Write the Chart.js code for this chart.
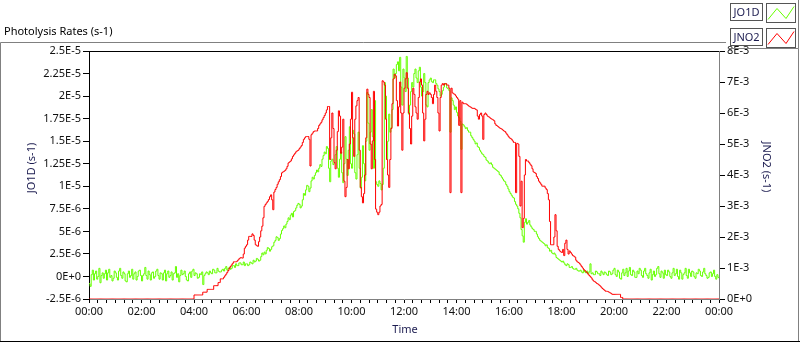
<!DOCTYPE html>
<html>
<head>
<meta charset="utf-8">
<title>Photolysis Rates</title>
<script src="https://cdn.jsdelivr.net/npm/chart.js@4.4.1/dist/chart.umd.min.js"></script>
<style>
  html, body { margin: 0; padding: 0; background: #fff; }
  canvas { display: block; }
</style>
</head>
<body>
<canvas id="photoChart" width="800" height="342"></canvas>
<script>
// one sample every 2.5 minutes, 00:00 .. 24:00 (24 samples per row = 1 hour)
const stepMinutes = 2.5;

// JO1D in units of 1E-6 s-1 (left axis)
const jo1d = [
  -0.8, -1.1, 0.2, 0.7, -0.4, 0.3, 0.6, -0.3, 0.0, 0.9, -0.7, 0.1, 0.4, -0.2, 0.3, 0.7, -0.4, 0.4, 0.8, -0.1, 0.1, -0.5, -0.2, 0.6,
  0.4, -0.1, -0.4, 0.6, 0.9, 0.1, -0.2, 0.5, 0.3, -0.5, -0.6, 0.3, 0.6, -0.1, 0.1, 0.8, -0.3, 0.3, 0.5, -0.4, 0.0, 0.6, 0.7, 0.1,
  -0.5, 0.1, 0.3, 1.0, 0.1, -0.3, 0.6, 0.2, -0.4, 0.4, 0.5, -0.2, 0.0, 0.6, 0.8, 0.1, -0.3, 0.4, 0.3, -0.4, 0.4, 0.7, -0.5, 0.3,
  0.6, -0.1, 0.1, 0.5, -0.4, 0.3, 0.4, 1.1, -0.1, 0.3, -0.6, 0.1, 0.7, 0.2, 0.3, 0.6, 0.0, -0.4, -0.5, 0.3, 0.5, -0.1, 0.6, 0.8,
  0.1, 0.4, 0.3, -0.2, -0.1, 0.3, 0.2, 0.5, -0.9, 0.1, 0.3, 0.5, 0.4, 0.2, 0.6, 0.4, 0.3, 0.8, 0.7, 0.4, 0.4, 0.9, 0.6, 0.5,
  0.5, 0.7, 0.8, 0.6, 0.9, 1.1, 0.7, 0.9, 1.0, 0.8, 0.9, 1.2, 1.2, 1.0, 1.4, 1.2, 1.2, 1.5, 1.5, 1.3, 1.3, 1.6, 1.2, 1.4,
  1.4, 1.2, 1.3, 1.6, 1.5, 1.4, 1.8, 1.6, 1.7, 2.0, 1.9, 1.7, 1.8, 2.2, 2.6, 2.4, 2.7, 2.5, 2.9, 3.2, 3.1, 2.8, 3.0, 3.3,
  3.4, 3.8, 4.0, 4.4, 4.3, 4.0, 4.2, 4.7, 5.1, 5.3, 5.6, 5.4, 5.8, 6.1, 6.5, 6.3, 6.8, 7.0, 6.6, 7.2, 7.3, 7.6, 7.9, 8.1,
  8.0, 7.6, 7.8, 8.5, 9.2, 9.0, 9.6, 10.1, 10.0, 9.4, 9.8, 10.6, 11.0, 10.8, 11.2, 11.5, 11.8, 11.6, 12.0, 12.4, 12.2, 13.0, 13.4, 13.8,
  13.6, 14.4, 14.2, 12.0, 10.5, 12.8, 13.0, 12.4, 12.6, 13.5, 14.4, 12.0, 11.0, 13.0, 13.8, 11.5, 10.4, 12.5, 15.5, 13.0, 11.2, 14.0, 16.6, 12.5,
  12.0, 16.2, 15.8, 11.5, 10.8, 13.5, 16.0, 12.0, 9.8, 11.0, 14.5, 12.5, 10.6, 15.0, 20.4, 17.0, 14.0, 16.0, 18.5, 15.5, 12.0, 19.5, 10.5, 10.2,
  10.0, 10.6, 10.3, 9.6, 10.2, 12.0, 21.5, 20.0, 13.0, 15.0, 18.0, 16.0, 16.5, 18.5, 23.0, 22.0, 22.5, 23.5, 23.8, 22.8, 24.3, 21.0, 19.0, 23.0,
  22.0, 20.5, 24.4, 22.0, 18.0, 19.0, 20.5, 21.5, 21.0, 22.5, 23.0, 22.0, 21.5, 22.8, 23.2, 21.0, 20.0, 20.5, 22.5, 21.5, 19.0, 18.8, 21.5, 21.8,
  22.0, 21.6, 21.5, 21.8, 21.8, 21.4, 21.2, 20.8, 20.5, 20.0, 20.2, 20.6, 21.0, 21.4, 21.3, 20.9, 20.8, 20.6, 16.0, 19.8, 19.5, 19.0, 18.5, 18.8,
  18.2, 17.8, 17.6, 17.2, 14.1, 16.9, 16.8, 16.6, 16.4, 16.5, 16.2, 16.0, 16.0, 15.6, 15.4, 15.2, 15.0, 14.7, 14.8, 14.4, 14.3, 14.0, 13.8, 13.6,
  13.5, 13.3, 13.2, 12.9, 12.8, 12.6, 12.5, 12.6, 12.4, 12.1, 12.0, 11.9, 11.8, 11.7, 11.6, 11.3, 11.2, 11.0, 10.8, 10.6, 10.5, 10.2, 10.0, 9.7,
  9.4, 9.2, 9.0, 8.8, 8.7, 8.3, 8.0, 7.8, 7.5, 7.0, 6.5, 5.2, 4.5, 3.8, 6.0, 6.4, 5.8, 6.0, 6.2, 5.7, 5.5, 5.3, 5.2, 5.0,
  5.0, 4.7, 4.4, 4.2, 4.0, 3.9, 3.8, 3.7, 3.6, 3.4, 3.5, 3.2, 3.1, 2.8, 2.9, 2.6, 2.5, 2.6, 2.4, 2.1, 2.0, 1.9, 1.8, 1.7,
  1.6, 1.7, 1.5, 1.3, 1.2, 1.4, 1.3, 1.0, 1.0, 1.1, 0.9, 0.8, 0.8, 0.9, 0.7, 0.6, 0.6, 0.7, 0.5, 0.4, 0.7, 0.5, 0.4, 0.6,
  0.3, 0.5, 1.4, 0.3, 0.4, 0.2, 0.2, 0.6, 0.5, 0.3, 0.3, 0.1, 0.6, 0.4, 0.2, 0.5, 0.4, 0.2, 0.1, 0.6, 0.5, 0.2, 0.3, 0.7,
  0.9, 0.2, 0.0, 0.7, 0.5, -0.2, -0.3, 0.4, 0.8, 0.1, 0.4, 0.9, 0.0, 0.6, 1.0, 0.2, 0.1, 0.7, 0.5, -0.1, -0.1, 0.6, 0.3, 0.9,
  0.7, 0.1, -0.1, 0.6, 0.9, 0.3, 0.1, -0.2, 0.4, 0.8, -0.4, 0.2, 0.6, 0.0, 0.2, 0.9, 1.1, 0.3, -0.1, 0.6, 0.4, -0.2, 0.7, 0.2,
  0.1, 0.7, 0.5, 0.0, -0.2, 0.4, 0.9, 0.1, 0.3, 0.8, 0.0, -0.3, 0.7, 0.4, -0.3, 0.2, 0.4, 0.9, 0.1, -0.2, 0.8, 0.4, 0.0, 0.6,
  0.5, 0.0, -0.2, 0.4, 0.3, 0.8, 0.6, 0.1, 0.0, 0.5, 0.9, 0.3, 0.1, -0.2, -0.1, 0.4, 0.5, 0.0, 0.3, 0.7, 0.0, -0.3, 0.2, -0.1,
  -0.2
];

// JNO2 in units of 1E-3 s-1 (right axis)
const jno2 = [
  0, 0, 0, 0, 0, 0, 0, 0, 0, 0, 0, 0, 0, 0, 0, 0, 0, 0, 0, 0, 0, 0, 0, 0,
  0, 0, 0, 0, 0, 0, 0, 0, 0, 0, 0, 0, 0, 0, 0, 0, 0, 0, 0, 0, 0, 0, 0, 0,
  0, 0, 0, 0, 0, 0, 0, 0, 0, 0, 0, 0, 0, 0, 0, 0, 0, 0, 0, 0, 0, 0, 0, 0,
  0, 0, 0, 0, 0, 0, 0, 0, 0, 0, 0, 0, 0, 0, 0, 0, 0, 0, 0, 0, 0, 0, 0, 0,
  0.13, 0.13, 0.13, 0.13, 0.13, 0.13, 0.13, 0.13, 0.22, 0.22, 0.22, 0.22, 0.31, 0.31, 0.31, 0.31, 0.31, 0.31, 0.43, 0.43, 0.43, 0.43, 0.53, 0.53,
  0.65, 0.65, 0.65, 0.70, 0.75, 0.80, 0.86, 0.92, 0.99, 1.05, 1.10, 1.15, 1.20, 1.20, 1.20, 1.22, 1.26, 1.30, 1.33, 1.33, 1.32, 1.45, 1.64, 1.70,
  1.75, 1.90, 2.02, 2.02, 2.02, 2.10, 2.05, 1.90, 1.75, 1.72, 1.70, 1.85, 2.00, 2.20, 2.35, 2.62, 2.99, 3.05, 3.10, 3.15, 3.21, 3.30, 3.36, 3.20,
  2.88, 3.45, 3.53, 3.60, 3.70, 3.78, 3.85, 3.95, 4.07, 4.10, 4.12, 4.15, 4.20, 4.28, 4.39, 4.42, 4.45, 4.52, 4.60, 4.65, 4.70, 4.75, 4.78, 4.80,
  4.85, 4.90, 4.95, 5.05, 5.15, 5.20, 5.24, 5.24, 5.24, 5.15, 4.29, 5.30, 5.35, 5.40, 5.42, 5.42, 5.42, 5.50, 5.60, 5.65, 5.70, 5.78, 5.85, 5.92,
  6.00, 6.10, 6.21, 6.21, 4.50, 5.20, 6.00, 5.50, 4.40, 4.20, 4.80, 5.40, 6.07, 5.90, 4.70, 4.90, 5.80, 3.80, 3.30, 3.60, 4.50, 4.20, 5.00, 5.80,
  6.67, 5.20, 4.60, 5.80, 6.23, 6.40, 6.50, 4.80, 3.60, 3.30, 3.10, 3.40, 4.00, 5.20, 6.77, 6.60, 6.50, 5.00, 4.20, 5.10, 6.70, 4.50, 2.90, 2.80,
  2.72, 2.80, 3.00, 3.05, 7.04, 7.00, 6.90, 5.80, 4.50, 4.00, 3.60, 4.50, 5.50, 6.30, 7.10, 7.25, 7.20, 6.40, 5.58, 6.20, 7.00, 6.00, 4.80, 6.00,
  6.80, 7.10, 7.30, 6.80, 6.00, 5.50, 5.00, 5.90, 6.80, 6.60, 6.20, 6.00, 5.80, 6.50, 7.00, 7.10, 6.90, 6.00, 5.10, 5.80, 6.60, 6.70, 6.60, 6.65,
  6.60, 6.50, 6.30, 6.60, 6.90, 6.70, 6.50, 6.00, 5.42, 6.50, 6.90, 6.95, 6.90, 6.95, 6.95, 6.90, 6.90, 6.80, 3.43, 6.80, 6.65, 6.62, 6.60, 6.55,
  6.50, 6.45, 5.60, 6.40, 3.43, 6.35, 6.30, 6.30, 6.30, 6.28, 6.25, 6.22, 6.20, 6.18, 6.15, 6.15, 6.15, 6.12, 6.10, 5.90, 5.80, 5.95, 6.00, 5.90,
  5.15, 5.95, 6.00, 5.95, 5.90, 5.88, 5.85, 5.82, 5.80, 5.78, 5.75, 5.65, 5.60, 5.58, 5.55, 5.52, 5.50, 5.48, 5.45, 5.42, 5.40, 5.35, 5.30, 5.25,
  5.20, 5.18, 5.15, 5.10, 5.05, 5.05, 3.43, 5.02, 5.00, 4.60, 3.00, 3.80, 2.30, 2.60, 4.00, 4.50, 4.45, 4.45, 4.40, 4.35, 4.30, 4.20, 4.10, 4.08,
  4.05, 3.95, 3.89, 3.80, 3.75, 3.70, 3.64, 3.64, 3.64, 3.58, 3.53, 3.40, 3.20, 2.50, 1.75, 1.75, 1.75, 2.00, 2.72, 2.20, 1.70, 1.60, 1.55, 1.52,
  1.50, 1.60, 1.40, 1.80, 1.90, 1.60, 1.45, 1.55, 1.50, 1.45, 1.40, 1.38, 1.35, 1.25, 1.20, 1.18, 1.15, 1.10, 1.05, 1.00, 0.95, 0.92, 0.88, 0.85,
  0.80, 0.76, 0.72, 0.68, 0.62, 0.58, 0.56, 0.53, 0.50, 0.48, 0.45, 0.42, 0.38, 0.34, 0.31, 0.28, 0.25, 0.25, 0.24, 0.22, 0.20, 0.18, 0.15, 0.15,
  0.15, 0.15, 0.15, 0.15, 0.15, 0.15, 0.05, 0.05, 0, 0, 0, 0, 0, 0, 0, 0, 0, 0, 0, 0, 0, 0, 0, 0,
  0, 0, 0, 0, 0, 0, 0, 0, 0, 0, 0, 0, 0, 0, 0, 0, 0, 0, 0, 0, 0, 0, 0, 0,
  0, 0, 0, 0, 0, 0, 0, 0, 0, 0, 0, 0, 0, 0, 0, 0, 0, 0, 0, 0, 0, 0, 0, 0,
  0, 0, 0, 0, 0, 0, 0, 0, 0, 0, 0, 0, 0, 0, 0, 0, 0, 0, 0, 0, 0, 0, 0, 0,
  0
];

const seriesNames = ["JO1D", "JNO2"];
const seriesColors = ["#66ff00", "#ff0000"];
const axisTitles = ["JO1D (s-1)", "JNO2 (s-1)", "Time"];

const FONT = "'Noto Sans', 'DejaVu Sans', sans-serif";
const NAVY = "#1c1c50";

// 2.5E-5, 7.5E-6, 0E+0 ...
function fmtE(x) {
  if (Math.abs(x) < 1e-15) return "0E+0";
  let e = Math.floor(Math.log10(Math.abs(x)) + 1e-9);
  let m = Math.round(x / Math.pow(10, e) * 1000) / 1000;
  if (Math.abs(m) >= 10) { m = m / 10; e++; }
  return m + "E" + e;
}

function hhmm(v) {
  const h = Math.floor(v / 60) % 24;
  return (h < 10 ? "0" : "") + h + ":00";
}

function toPoints(arr) {
  return arr.map((v, i) => ({x: i * stepMinutes, y: v}));
}

// panel frame, titles, top border and legend, LabVIEW style
const panelPlugin = {
  id: "panel",
  beforeDraw(chart) {
    const ctx = chart.ctx;
    ctx.save();
    ctx.fillStyle = "#fff";
    ctx.fillRect(0, 0, chart.width, chart.height);
    ctx.restore();
  },
  afterDraw(chart) {
    const ctx = chart.ctx;
    const a = chart.chartArea;
    ctx.save();
    ctx.lineWidth = 1;

    // top border of plot
    ctx.strokeStyle = "#000";
    ctx.beginPath();
    ctx.moveTo(a.left, a.top + 0.5);
    ctx.lineTo(a.right, a.top + 0.5);
    ctx.stroke();

    // outer frame
    ctx.strokeStyle = "#808080";
    ctx.beginPath();
    ctx.moveTo(0.5, 341.5);
    ctx.lineTo(0.5, 42.5);
    ctx.lineTo(726, 42.5);
    ctx.moveTo(728, 48.5);
    ctx.lineTo(798.5, 48.5);
    ctx.lineTo(798.5, 0);
    ctx.moveTo(798.5, 48.5);
    ctx.lineTo(798.5, 341.5);
    ctx.stroke();
    ctx.strokeStyle = "#000";
    ctx.beginPath();
    ctx.moveTo(0, 341.5);
    ctx.lineTo(800, 341.5);
    ctx.stroke();

    ctx.font = "11px " + FONT;
    ctx.textBaseline = "middle";

    // chart title
    ctx.fillStyle = "#000";
    ctx.textAlign = "left";
    ctx.fillText("Photolysis Rates (s-1)", 4, 32);

    // axis titles
    ctx.fillStyle = NAVY;
    ctx.textAlign = "center";
    ctx.fillText(axisTitles[2], 405, 330);
    ctx.save();
    ctx.translate(32, 168);
    ctx.rotate(-Math.PI / 2);
    ctx.fillText(axisTitles[0], 0, 0);
    ctx.restore();
    ctx.save();
    ctx.translate(766, 167);
    ctx.rotate(Math.PI / 2);
    ctx.fillText(axisTitles[1], 0, 0);
    ctx.restore();

    // legend
    seriesNames.forEach((name, i) => {
      const y0 = 3.5 + i * 25;
      ctx.strokeStyle = "#555";
      ctx.strokeRect(730.5, y0, 32, 17);
      ctx.strokeRect(766.5, y0, 29, 19);
      ctx.fillStyle = NAVY;
      ctx.textAlign = "center";
      ctx.fillText(name, 746.5, y0 + 9);
      ctx.strokeStyle = seriesColors[i];
      ctx.beginPath();
      ctx.moveTo(768, y0 + 16);
      ctx.lineTo(777, y0 + 5);
      ctx.lineTo(786, y0 + 15);
      ctx.lineTo(794, y0 + 3);
      ctx.stroke();
    });

    ctx.restore();
  }
};

Chart.defaults.font.family = FONT;
Chart.defaults.font.size = 11;
Chart.defaults.color = "#111";

new Chart("photoChart", {
  type: "line",
  data: {
    datasets: [{
      label: seriesNames[0],
      data: toPoints(jo1d),
      yAxisID: "y",
      borderColor: seriesColors[0],
      borderWidth: 1,
      pointRadius: 0,
      stepped: true,
      order: 1
    }, {
      label: seriesNames[1],
      data: toPoints(jno2),
      yAxisID: "y1",
      borderColor: seriesColors[1],
      borderWidth: 1,
      pointRadius: 0,
      stepped: true,
      order: 0
    }]
  },
  options: {
    responsive: false,
    animation: false,
    devicePixelRatio: 1,
    layout: {padding: {top: 51, left: 0, right: 0, bottom: 0}},
    plugins: {
      legend: {display: false},
      title: {display: false},
      tooltip: {enabled: false}
    },
    scales: {
      x: {
        type: "linear",
        position: "bottom",
        min: 0,
        max: 1440,
        afterFit(s) { s.height = 43; },
        ticks: {
          stepSize: 20,
          autoSkip: false,
          maxRotation: 0,
          minRotation: 0,
          padding: 2,
          callback: v => (v % 120 === 0 ? hhmm(v) : "")
        },
        grid: {drawOnChartArea: false, tickLength: 4, tickColor: "#000"},
        border: {color: "#808080"}
      },
      y: {
        position: "left",
        min: -2.5,
        max: 25,
        afterFit(s) { s.width = 89; },
        ticks: {stepSize: 2.5, padding: 2, callback: v => fmtE(v * 1e-6)},
        grid: {drawOnChartArea: false, tickLength: 6, tickColor: "#000"},
        border: {color: "#000"}
      },
      y1: {
        position: "right",
        min: 0,
        max: 8,
        afterFit(s) { s.width = 81; },
        ticks: {stepSize: 1, padding: 2, callback: v => fmtE(v * 1e-3)},
        grid: {drawOnChartArea: false, tickLength: 6, tickColor: "#000"},
        border: {color: "#808080"}
      }
    }
  },
  plugins: [panelPlugin]
});
</script>
</body>
</html>
